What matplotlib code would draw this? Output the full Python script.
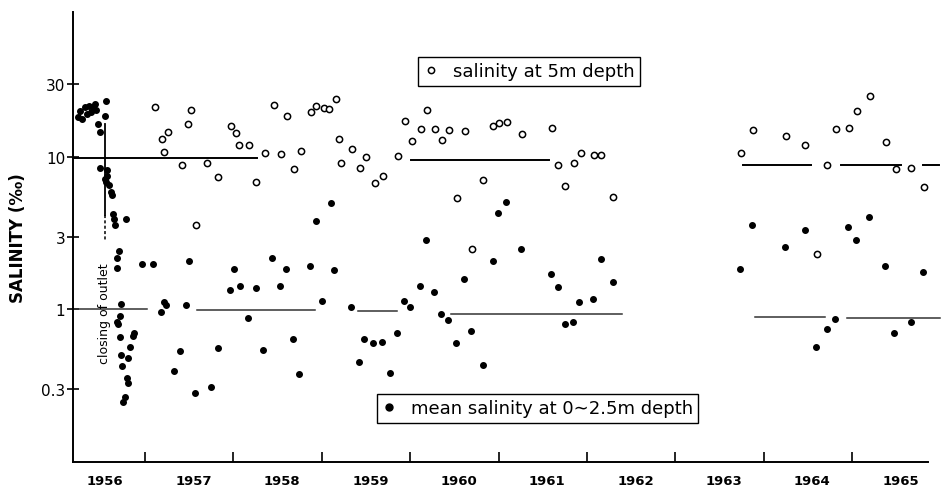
import matplotlib
matplotlib.use("Agg")
import matplotlib.pyplot as plt
from matplotlib.lines import Line2D

# mean salinity at 0-2.5 m depth (filled dots)
fill_year = [
    1956.242, 1956.265, 1956.291, 1956.318, 1956.347, 1956.367, 1956.386, 1956.415,
    1956.431, 1956.449, 1956.472, 1956.488, 1956.544, 1956.555,
    1956.491, 1956.567, 1956.544, 1956.573, 1956.555, 1956.593, 1956.612, 1956.630,
    1956.641, 1956.649, 1956.657, 1956.782,
    1956.706, 1956.680, 1956.680, 1956.966, 1957.094, 1957.501,
    1956.725, 1956.714, 1956.687, 1956.698, 1956.876, 1956.861, 1956.717, 1956.830,
    1956.732, 1956.811, 1956.743, 1956.793, 1956.808, 1956.770, 1956.755,
    1957.178, 1957.215, 1957.234, 1957.464, 1957.399, 1957.328, 1957.566, 1957.741,
    1957.829, 1958.003, 1957.958, 1958.080, 1958.259, 1958.169, 1958.331, 1958.440,
    1958.595, 1958.527, 1958.669, 1958.739, 1958.863, 1958.937, 1959.104, 1959.135,
    1959.000,
    1959.327, 1959.421, 1959.481, 1959.585, 1959.678, 1959.771, 1959.847, 1959.930,
    1959.998, 1960.111, 1960.179, 1960.269, 1960.348, 1960.424, 1960.520, 1960.611,
    1960.693, 1960.824, 1960.937, 1960.999, 1961.084, 1961.253, 1961.595, 1961.672,
    1961.753, 1961.842, 1961.915, 1962.074, 1962.158, 1962.298,
    1963.734, 1963.870, 1964.240, 1964.466, 1964.598, 1964.712, 1964.805, 1964.960,
    1965.040, 1965.198, 1965.371, 1965.476, 1965.665, 1965.809,
]
fill_sal = [
    18.3, 19.8, 17.7, 21.1, 19.1, 21.6, 19.6, 21.1,
    22.2, 20.1, 16.4, 14.5, 18.6, 23.0,
    8.44, 8.13, 7.18, 7.48, 6.83, 6.49, 5.88, 5.64,
    4.24, 3.93, 3.56, 3.88,
    2.40, 2.18, 1.87, 1.97, 1.97, 2.08,
    1.08, 0.904, 0.831, 0.798, 0.705, 0.669, 0.659, 0.565,
    0.503, 0.483, 0.426, 0.354, 0.328, 0.265, 0.249,
    0.966, 1.12, 1.06, 1.07, 0.537, 0.392, 0.282, 0.308,
    0.556, 1.83, 1.34, 1.42, 1.38, 0.877, 0.542, 2.18,
    1.83, 1.42, 0.640, 0.376, 1.92, 3.80, 4.99, 1.81,
    1.14,
    1.04, 0.451, 0.640, 0.604, 0.608, 0.382, 0.700, 1.14,
    1.03, 1.42, 2.85, 1.29, 0.928, 0.851, 0.598, 1.58,
    0.722, 0.433, 2.08, 4.29, 5.06, 2.47, 1.71, 1.41,
    0.798, 0.831, 1.12, 1.17, 2.14, 1.50,
    1.83, 3.59, 2.57, 3.32, 0.570, 0.748, 0.864, 3.44,
    2.85, 4.01, 1.92, 0.697, 0.831, 1.75,
]

# salinity at 5 m depth (open circles)
open_year = [
    1957.117, 1957.187, 1957.217, 1957.258, 1957.415, 1957.483, 1957.520, 1957.574,
    1957.698, 1957.831, 1957.973, 1958.024, 1958.069, 1958.182, 1958.259, 1958.355,
    1958.462, 1958.538, 1958.606, 1958.691, 1958.762, 1958.874, 1958.931, 1959.025,
    1959.081, 1959.157, 1959.195, 1959.212, 1959.345, 1959.432, 1959.497, 1959.602,
    1959.692, 1959.864, 1959.947, 1960.017, 1960.122, 1960.193, 1960.277, 1960.363,
    1960.442, 1960.535, 1960.626, 1960.696, 1960.827, 1960.940, 1961.001, 1961.092,
    1961.270, 1961.606, 1961.678, 1961.755, 1961.855, 1961.935, 1962.079, 1962.164,
    1962.294,
    1963.745, 1963.878, 1964.248, 1964.466, 1964.602, 1964.712, 1964.817, 1964.967,
    1965.051, 1965.201, 1965.382, 1965.503, 1965.673, 1965.820,
]
open_sal = [
    21.1, 13.0, 10.8, 14.6, 8.77, 16.4, 20.1, 3.56,
    9.14, 7.37, 16.0, 14.4, 12.0, 11.9, 6.79, 10.6,
    21.8, 10.4, 18.6, 8.35, 10.9, 19.6, 21.6, 20.9,
    20.6, 23.7, 13.1, 9.14, 11.3, 8.44, 10.0, 6.76,
    7.43, 10.1, 17.1, 12.6, 15.1, 20.1, 15.2, 12.8,
    14.9, 5.40, 14.8, 2.47, 7.00, 15.8, 16.6, 16.8,
    14.0, 15.4, 8.89, 6.43, 9.07, 10.5, 10.3, 10.3,
    5.46,
    10.5, 15.0, 13.6, 12.0, 2.31, 8.87, 15.2, 15.4,
    19.9, 24.9, 12.5, 8.26, 8.44, 6.30,
]

# period means drawn as horizontal bars
hi_start = [1956.19, 1960.01, 1963.77, 1964.88, 1965.80]
hi_end = [1958.27, 1961.57, 1964.54, 1965.56, 1965.99]
hi_val = [9.8, 9.46, 8.87, 8.77, 8.8]
lo_start = [1956.19, 1957.585, 1959.41, 1960.467, 1963.90, 1964.938]
lo_end = [1957.02, 1958.923, 1959.851, 1962.392, 1964.692, 1965.993]
lo_val = [1.0, 0.99, 0.975, 0.935, 0.896, 0.883]

years = list(range(1956, 1966))
year_bounds = list(range(1957, 1966))
ytick_vals = [0.3, 1, 3, 10, 30]
ytick_labels = ["0.3", "1", "3", "10", "30"]

closing_year = 1956.544

fig = plt.figure(figsize=(9.43, 4.89), dpi=100)
ax = fig.add_axes([73 / 943, 26 / 489, 855 / 943, 450 / 489])

ax.set_yscale("log")
ax.set_xlim(1956.185, 1965.86)
ax.set_ylim(0.1, 88.7)

ax.plot(fill_year, fill_sal, "o", color="black", markersize=4, zorder=3)
ax.plot(open_year, open_sal, "o", mfc="white", mec="black", mew=1.1,
        markersize=4.5, zorder=3)

for x0, x1, v in zip(hi_start, hi_end, hi_val):
    ax.plot([x0, x1], [v, v], color="black", lw=1.4, clip_on=False, zorder=2)
for x0, x1, v in zip(lo_start, lo_end, lo_val):
    ax.plot([x0, x1], [v, v], color="#333333", lw=1.1, clip_on=False, zorder=2)

# closing of outlet marker
ax.plot([closing_year, closing_year], [16.4, 4.14], color="black", lw=1.3)
ax.plot([closing_year, closing_year], [4.14, 2.84], color="black", lw=1.1,
        ls=(0, (2, 1.5)))
ax.text(closing_year, 0.956, "closing of outlet", rotation=90, ha="center",
        va="center", fontsize=9, color="black")

# axes styling
for side in ["top", "right"]:
    ax.spines[side].set_visible(False)
ax.spines["left"].set_linewidth(1.4)
ax.spines["bottom"].set_linewidth(1.4)

ax.set_yticks(ytick_vals)
ax.set_yticklabels(ytick_labels)
ax.yaxis.set_minor_locator(matplotlib.ticker.NullLocator())
ax.tick_params(axis="y", direction="inout", length=9, width=1.2, pad=1,
               labelsize=11)

ax.set_xticks(year_bounds)
ax.set_xticklabels([])
ax.set_xticks([y + 0.55 for y in years], minor=True)
ax.set_xticklabels([str(y) for y in years], minor=True, fontweight="bold",
                   fontsize=9.5)
ax.tick_params(axis="x", which="major", direction="in", length=7, width=1.2)
ax.tick_params(axis="x", which="minor", length=0, pad=9)

ax.set_ylabel("SALINITY (‰)", fontsize=12, fontweight="bold", labelpad=10)

# legends
h_open = Line2D([], [], ls="none", marker="o", mfc="white", mec="black",
                mew=1.1, markersize=4.5)
h_fill = Line2D([], [], ls="none", marker="o", color="black", markersize=5)
leg_top = ax.legend([h_open], ["salinity at 5m depth"], loc="lower left",
                    bbox_to_anchor=(0.404, 0.836), borderaxespad=0,
                    fancybox=False, edgecolor="black", framealpha=1,
                    fontsize=13, handlelength=0.8, handletextpad=0.8,
                    borderpad=0.3)
leg_top.get_frame().set_linewidth(1.0)
ax.add_artist(leg_top)
leg_bot = ax.legend([h_fill], ["mean salinity at 0\u223c2.5m depth"],
                    loc="lower left", bbox_to_anchor=(0.355, 0.087),
                    borderaxespad=0, fancybox=False, edgecolor="black",
                    framealpha=1, fontsize=13, handlelength=0.8,
                    handletextpad=0.8, borderpad=0.3)
leg_bot.get_frame().set_linewidth(1.0)

fig.savefig("out.png", dpi=100)
